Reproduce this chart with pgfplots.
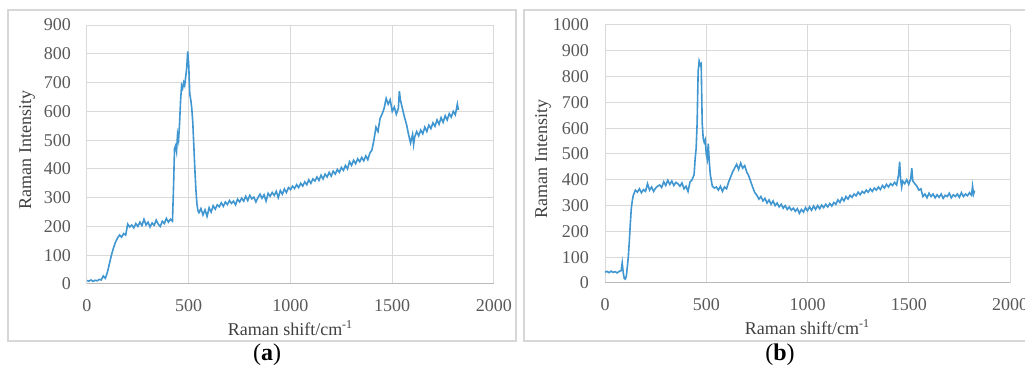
\documentclass[border=0pt]{standalone}
\usepackage{fontspec}
\setmainfont{Liberation Serif}
\usepackage{pgfplots}
\pgfplotsset{compat=1.18}
\definecolor{line}{RGB}{64,150,208}
\definecolor{gridc}{RGB}{217,217,217}
\definecolor{framec}{RGB}{215,215,215}
\definecolor{tickc}{RGB}{89,89,89}
\definecolor{labc}{RGB}{64,64,64}
\pgfplotsset{
  ramanstyle/.style={
    scale only axis,
    anchor=south west,
    xmin=0, xmax=2000,
    xtick={0,500,1000,1500,2000},
    ymin=0,
    xmajorgrids, ymajorgrids,
    grid style={draw=gridc, line width=0.5pt},
    axis x line*=bottom, axis y line*=left,
    x axis line style={draw=gray!55, line width=0.5pt},
    y axis line style={draw=none},
    major tick length=0pt,
    tick style={draw=none},
    /pgf/number format/assume math mode=true,
    /pgf/number format/1000 sep={},
    ticklabel style={font=\fontsize{9}{10}\selectfont, text=tickc},
    xticklabel style={yshift=-4.4pt},
    yticklabel style={xshift=-4.5pt},
    label style={font=\fontsize{9}{10}\selectfont, text=labc},
    xlabel={Raman shift/cm\textsuperscript{-1}},
    ylabel={Raman Intensity},
    xlabel style={at={(axis description cs:0.5,0)}, anchor=center, yshift=-22pt},
    clip=false,
  }
}
\begin{document}
\begin{tikzpicture}
\useasboundingbox (0,0) rectangle (512.5pt,183.5pt);
\draw[framec, line width=0.6pt] (4pt,13pt) rectangle (258pt,178.5pt);
\draw[framec, line width=0.6pt] (262pt,13pt) rectangle (516pt,178.5pt);
\begin{axis}[ramanstyle, at={(43.5pt,41.5pt)}, width=203.5pt, height=129.5pt,
  ymax=900, ytick={0,100,...,900},
  ylabel style={at={(axis description cs:0,0.5)}, anchor=center, yshift=30pt, xshift=2.25pt}]
\addplot[line, line width=0.8pt] coordinates {
(0,12)(10,10)(20,14)(30,9)(40,13)(50,11)(60,16)(70,14)(80,28)(90,20)(100,40)(110,70)(120,100)(130,125)(140,145)(150,160)(160,170)(170,163)(180,175)(190,170)(200,208)(210,198)(220,205)(230,195)(240,210)(250,200)(260,215)(270,203)(280,225)(290,205)(300,215)(310,198)(320,212)(330,204)(340,222)(350,208)(360,200)(370,218)(380,210)(390,228)(400,215)(410,225)(420,218)(425,330)(430,470)(435,480)(440,460)(445,520)(450,500)(455,560)(460,640)(465,690)(470,680)(475,700)(480,690)(485,720)(490,750)(495,808)(500,760)(505,660)(510,640)(515,610)(520,560)(525,480)(530,400)(535,330)(540,280)(545,255)(550,248)(560,262)(570,240)(580,258)(590,235)(600,265)(610,250)(620,272)(630,260)(640,275)(650,268)(660,282)(670,270)(680,285)(690,276)(700,290)(710,280)(720,288)(730,275)(740,295)(750,285)(760,298)(770,288)(780,305)(790,290)(800,308)(810,296)(820,302)(830,285)(840,300)(850,312)(860,298)(870,310)(880,288)(890,315)(900,305)(910,318)(920,308)(930,322)(940,300)(950,325)(960,312)(970,330)(980,318)(990,335)(1000,328)(1010,340)(1020,332)(1030,345)(1040,335)(1050,350)(1060,340)(1070,355)(1080,345)(1090,362)(1100,350)(1110,365)(1120,358)(1130,372)(1140,360)(1150,378)(1160,365)(1170,382)(1180,372)(1190,388)(1200,375)(1210,392)(1220,382)(1230,398)(1240,388)(1250,405)(1260,395)(1270,412)(1280,400)(1290,425)(1300,412)(1310,430)(1320,418)(1330,435)(1340,425)(1350,440)(1360,428)(1370,445)(1380,432)(1390,455)(1400,465)(1410,500)(1420,545)(1430,530)(1440,575)(1450,590)(1460,610)(1470,645)(1480,625)(1490,640)(1500,600)(1510,615)(1520,590)(1530,610)(1535,670)(1540,640)(1550,610)(1560,580)(1570,555)(1580,520)(1590,490)(1600,520)(1605,485)(1610,510)(1620,530)(1630,515)(1640,535)(1650,522)(1660,545)(1670,530)(1680,552)(1690,540)(1700,560)(1710,548)(1720,570)(1730,555)(1740,578)(1750,562)(1760,585)(1770,570)(1780,592)(1790,580)(1800,600)(1810,588)(1820,625)(1825,605)
};
\end{axis}
\begin{axis}[ramanstyle, at={(302.5pt,42pt)}, width=202.5pt, height=129pt,
  ymax=1000, ytick={0,100,...,1000},
  ylabel style={at={(axis description cs:0,0.5)}, anchor=center, yshift=31pt, xshift=-2.5pt}]
\addplot[line, line width=0.8pt] coordinates {
(0,42)(10,45)(20,40)(30,46)(40,41)(50,44)(60,39)(70,45)(80,48)(85,78)(90,40)(95,18)(100,15)(105,25)(110,60)(115,100)(120,160)(125,230)(130,290)(135,320)(140,340)(150,360)(160,352)(170,365)(180,350)(190,362)(200,355)(210,385)(220,360)(230,372)(240,355)(250,368)(260,375)(270,380)(280,370)(290,392)(300,378)(310,398)(320,382)(330,395)(340,378)(350,390)(360,385)(370,375)(380,388)(390,365)(400,375)(410,355)(420,392)(430,400)(440,420)(445,480)(450,520)(455,620)(460,820)(465,860)(470,845)(475,850)(480,620)(485,560)(490,545)(495,555)(500,500)(505,480)(510,540)(515,470)(520,420)(530,375)(540,368)(550,372)(560,360)(570,375)(580,355)(590,372)(600,365)(610,390)(620,410)(630,430)(640,445)(650,460)(660,440)(670,465)(680,445)(690,455)(700,430)(710,415)(720,392)(730,370)(740,350)(750,340)(760,325)(770,335)(780,318)(790,328)(800,310)(810,322)(820,305)(830,318)(840,300)(850,310)(860,295)(870,305)(880,290)(890,300)(900,285)(910,295)(920,282)(930,290)(940,278)(950,288)(960,270)(970,285)(980,275)(990,292)(1000,280)(1010,295)(1020,282)(1030,298)(1040,285)(1050,300)(1060,288)(1070,302)(1080,292)(1090,305)(1100,295)(1110,308)(1120,298)(1130,312)(1140,305)(1150,322)(1160,312)(1170,330)(1180,318)(1190,335)(1200,325)(1210,340)(1220,332)(1230,345)(1240,338)(1250,352)(1260,342)(1270,355)(1280,348)(1290,360)(1300,352)(1310,365)(1320,355)(1330,368)(1340,360)(1350,372)(1360,362)(1370,378)(1380,368)(1390,382)(1400,372)(1410,385)(1420,378)(1430,390)(1440,380)(1450,420)(1455,470)(1460,400)(1465,372)(1470,395)(1480,385)(1490,400)(1500,382)(1510,405)(1515,445)(1520,395)(1530,385)(1540,375)(1550,360)(1560,365)(1570,335)(1580,345)(1590,330)(1600,348)(1610,335)(1620,345)(1630,330)(1640,342)(1650,332)(1660,345)(1670,328)(1680,340)(1690,335)(1700,348)(1710,330)(1720,342)(1730,335)(1740,345)(1750,332)(1760,350)(1770,335)(1780,345)(1790,338)(1800,350)(1810,340)(1815,375)(1820,345)(1825,358)
};
\end{axis}
\node[font=\fontsize{12}{13}\selectfont] at (133.5pt,6pt) {(\textbf{a})};
\node[font=\fontsize{12}{13}\selectfont] at (390pt,6pt) {(\textbf{b})};
\end{tikzpicture}
\end{document}
